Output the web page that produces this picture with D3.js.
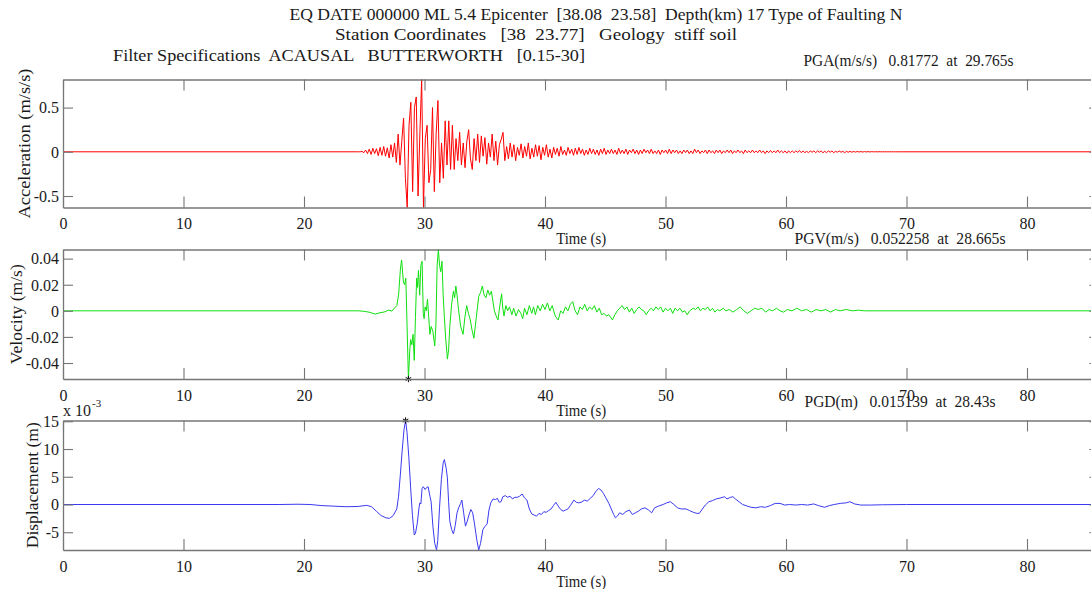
<!DOCTYPE html>
<html>
<head>
<meta charset="utf-8">
<script src="https://d3js.org/d3.v7.min.js"></script>
<style>
  html, body { margin: 0; padding: 0; background: #fff; }
  svg { display: block; font-family: "Liberation Serif", "Times New Roman", serif; }
  text { white-space: pre; fill: #1a1a1a; }
</style>
</head>
<body>
<svg id="chart" width="1091" height="589"></svg>
<script>
// ---- record header ----
const titleLines = [
  "EQ DATE 000000 ML 5.4 Epicenter  [38.08  23.58]  Depth(km) 17 Type of Faulting N",
  "Station Coordinates   [38  23.77]   Geology  stiff soil",
  "Filter Specifications  ACAUSAL   BUTTERWORTH   [0.15-30]"
];
const peakLabels = [
  "PGA(m/s/s)   0.81772  at  29.765s",
  "PGV(m/s)   0.052258  at  28.665s",
  "PGD(m)   0.015139  at  28.43s"
];
const yLabels = ["Acceleration (m/s/s)", "Velocity (m/s)", "Displacement (m)"];
const xLabel = "Time (s)";
const xTicks = [0, 10, 20, 30, 40, 50, 60, 70, 80];
const accTicks = [-0.5, 0, 0.5];
const velTicks = [-0.04, -0.02, 0, 0.02, 0.04];
const dispTicks = [-0.005, 0, 0.005, 0.01, 0.015];
const recordEnd = 86;

// ---- acceleration (m/s/s): samples every accStep s from accStart ----
const accStart = 24.515;
const accStep = 0.15;
const accValues = [
  0, 0, 0.005, -0.01, 0.02, -0.02, 0.03, -0.03, 0.04, -0.02, 0.035, -0.045, 0.05, -0.04, 0.06, -0.05, 0.045, -0.07, 0.08, -0.06,
  0.10, -0.12, 0.20, -0.15, 0.12, 0.38, -0.30, -0.63, 0.30, 0.56, -0.45, 0.50, 0.62, -0.50, 0.20, 0.81772, -0.63, 0.15, 0.30, -0.35,
  -0.20, 0.50, -0.45, 0.20, 0.58, -0.35, 0.10, -0.30, 0.35, -0.15, 0.35, -0.20, 0.30, -0.20, 0.15, -0.10, 0.22, -0.15, 0.10, -0.18,
  0.12, 0.25, -0.08, -0.20, 0.15, -0.10, 0.20, -0.12, 0.18, -0.05, 0.16, -0.14, 0.10, -0.06, 0.20, -0.10, 0.12, -0.15, 0.08, 0.14,
  0.22, -0.10, 0.06, -0.08, 0.10, -0.06, 0.08, -0.10, 0.05, -0.04, 0.09, -0.07, 0.06, -0.05, 0.10, -0.08, 0.04, -0.06, 0.08, -0.05,
  0.07, -0.09, 0.05, -0.04, 0.08, -0.06, 0.03, -0.07, 0.05, -0.03, 0.04, -0.05, 0.06, -0.03, 0.02, -0.04, 0.05, -0.02, 0.03, -0.04,
  0.04, -0.03, 0.05, -0.02, 0.03, -0.04, 0.02, -0.03, 0.04, -0.02, 0.03, -0.03, 0.02, -0.04, 0.03, -0.02, 0.04, -0.03, 0.02, -0.02,
  0.03, -0.02, 0.02, -0.03, 0.04, -0.02, 0.02, -0.02, 0.03, -0.03, 0.02, -0.01, 0.03, -0.02, 0.02, -0.03, 0.02, -0.02, 0.03, -0.01,
  0.02, -0.02, 0.03, -0.02, 0.01, -0.02, 0.02, -0.03, 0.02, -0.01, 0.02, -0.02, 0.03, -0.02, 0.02, -0.01, 0.02, -0.02, 0.01, -0.02,
  0.02, -0.01, 0.02, -0.02, 0.01, -0.02, 0.03, -0.01, 0.02, -0.02, 0.01, -0.01, 0.02, -0.02, 0.02, -0.01, 0.01, -0.02, 0.02, -0.01,
  0.02, -0.02, 0.01, -0.01, 0.02, -0.01, 0.02, -0.02, 0.01, -0.01, 0.02, -0.01, 0.01, -0.02, 0.02, -0.01, 0.01, -0.01, 0.02, -0.01,
  0.01, -0.01, 0.02, -0.01, 0.01, -0.02, 0.01, -0.01, 0.015, -0.01, 0.01, -0.01, 0.02, -0.01, 0.01, -0.01, 0.01, -0.015, 0.01, -0.01,
  0.01, -0.01, 0.01, -0.005, 0.015, -0.01, 0.01, -0.01, 0.005, -0.01, 0.01, -0.005, 0.01, -0.01, 0.01, -0.005, 0.01, -0.01, 0.005, -0.01,
  0.01, -0.005, 0.01, -0.01, 0.005, -0.005, 0.01, -0.005, 0.005, -0.01, 0.005, -0.005, 0.005, -0.005, 0.004, -0.004, 0.004, -0.003, 0.003, -0.003,
  0.003, -0.002, 0.002, -0.002, 0.002, -0.001, 0.001, -0.001, 0.001, 0, 0, 0, 0, 0, 0, 0, 0, 0, 0, 0
];

// ---- velocity (m/s) ----
const velTime = [
  0, 24.5, 24.9, 25.4, 25.9, 26.3, 26.7, 27.0, 27.3, 27.5, 27.7, 27.85, 28.0, 28.1, 28.25, 28.35, 28.45, 28.55, 28.665, 28.78,
  28.85, 28.95, 29.05, 29.15, 29.25, 29.35, 29.42, 29.5, 29.6, 29.7, 29.8, 29.9, 29.97, 30.05, 30.15, 30.25, 30.35, 30.45, 30.55, 30.7,
  30.85, 30.95, 31.05, 31.15, 31.25, 31.35, 31.45, 31.55, 31.65, 31.75, 31.9, 32.0, 32.1, 32.25, 32.4, 32.5, 32.6, 32.7, 32.8, 33.0,
  33.2, 33.35, 33.5, 33.65, 33.8, 33.95, 34.1, 34.3, 34.5, 34.65, 34.8, 34.95, 35.1, 35.25, 35.4, 35.55, 35.7, 35.8, 35.95, 36.1,
  36.25, 36.4, 36.5, 36.6, 36.75, 36.9, 37.05, 37.25, 37.4, 37.6, 37.8, 38.0, 38.15, 38.3, 38.5, 38.7, 38.9, 39.05, 39.2, 39.4,
  39.6, 39.8, 40.0, 40.2, 40.4, 40.6, 40.85, 41.1, 41.3, 41.5, 41.7, 41.9, 42.1, 42.3, 42.5, 42.7, 42.9, 43.1, 43.3, 43.5,
  43.7, 43.9, 44.1, 44.3, 44.5, 44.7, 44.9, 45.1, 45.3, 45.6, 45.8, 46.0, 46.2, 46.4, 46.6, 46.8, 47.0, 47.2, 47.4, 47.6,
  47.8, 48.0, 48.2, 48.4, 48.6, 48.8, 49.0, 49.2, 49.4, 49.6, 49.8, 50.0, 50.2, 50.4, 50.6, 50.8, 51.0, 51.2, 51.4, 51.6,
  51.8, 52.0, 52.3, 52.5, 52.7, 52.9, 53.1, 53.3, 53.5, 53.7, 53.9, 54.1, 54.3, 54.5, 54.8, 55.0, 55.3, 55.6, 55.9, 56.2,
  56.5, 56.8, 57.1, 57.4, 57.7, 58.0, 58.3, 58.6, 58.9, 59.2, 59.5, 59.8, 60.1, 60.5, 60.9, 61.3, 61.7, 62.1, 62.5, 62.9,
  63.3, 63.7, 64.1, 64.5, 65.0, 65.5, 66.0, 66.5, 86
];
const velValues = [
  0, 0, -0.0003, -0.001, -0.0025, -0.0015, -0.0008, 0.0005, -0.0002, 0.002, 0.004, 0.012, 0.032, 0.039, 0.022, 0.02, 0.025, -0.01, -0.052258, -0.03,
  -0.022, -0.026, -0.018, -0.038, -0.005, 0.025, 0.018, 0.031, 0.012, 0.035, 0.038, -0.002, -0.006, 0.003, 0.0, 0.009, -0.005, -0.018, -0.012, -0.016,
  -0.027, -0.01, 0.035, 0.047, 0.035, 0.03, 0.038, 0.012, -0.005, -0.02, -0.037, -0.03, -0.012, 0.005, 0.015, 0.01, 0.019, 0.012, 0.003, -0.012,
  -0.018, -0.005, 0.004, -0.002, -0.007, -0.015, -0.021, -0.005, 0.011, 0.014, 0.019, 0.012, 0.01, 0.016, 0.012, 0.015, 0.006, 0.0, -0.004, -0.007,
  0.004, 0.013, 0.002, -0.004, 0.004, 0.0, 0.003, -0.003, 0.002, -0.004, 0.001, -0.002, -0.006, 0.002, -0.003, 0.004, -0.002, 0.003, -0.003, 0.004,
  0.0, 0.005, 0.001, 0.006, 0.0, 0.004, -0.004, -0.007, 0.0, -0.002, 0.003, 0.0, 0.005, 0.007, 0.0, -0.003, 0.003, 0.001, 0.005, 0.0,
  0.003, 0.001, 0.004, -0.001, 0.002, -0.003, -0.002, -0.004, -0.003, -0.007, -0.003, 0.0, 0.002, 0.004, 0.001, 0.003, -0.001, 0.002, -0.002, 0.001,
  0.003, 0.001, 0.0, -0.003, 0.0, 0.002, 0.0, 0.003, 0.001, 0.003, -0.001, 0.002, 0.0, 0.002, -0.002, 0.002, 0.0, 0.002, -0.001, 0.0,
  -0.003, 0.0, 0.002, 0.001, 0.003, 0.0, 0.002, 0.001, 0.003, 0.0, 0.002, -0.001, 0.001, 0.0, 0.002, 0.0, 0.001, -0.001, 0.001, 0.003,
  0.0, -0.002, 0.0, 0.002, 0.001, 0.002, -0.001, 0.001, 0.0, 0.002, 0.0, -0.001, 0.001, 0.0, 0.002, 0.0, 0.001, -0.001, 0.001, 0.0,
  0.001, -0.001, 0.001, 0.0, 0.001, 0.0, 0.0005, 0.0, 0
];

// ---- displacement (m) ----
const dispTime = [
  0, 18, 19.5, 20.5, 21.5, 22.5, 23.5, 24.5, 25.2, 25.6, 26.0, 26.4, 26.8, 27.1, 27.4, 27.7, 27.85, 28.0, 28.15, 28.3,
  28.43, 28.55, 28.7, 28.85, 29.0, 29.15, 29.25, 29.4, 29.55, 29.62, 29.7, 29.8, 29.9, 30.05, 30.15, 30.3, 30.45, 30.55, 30.7, 30.85,
  31.0, 31.1, 31.25, 31.4, 31.55, 31.65, 31.8, 31.9, 32.0, 32.1, 32.25, 32.4, 32.55, 32.7, 32.85, 33.0, 33.1, 33.25, 33.4, 33.55,
  33.7, 33.85, 34.0, 34.15, 34.35, 34.5, 34.65, 34.85, 35.0, 35.2, 35.35, 35.5, 35.7, 35.9, 36.05, 36.2, 36.35, 36.5, 36.7, 36.9,
  37.1, 37.3, 37.5, 37.7, 37.9, 38.1, 38.3, 38.5, 38.7, 38.9, 39.1, 39.3, 39.5, 39.7, 39.9, 40.1, 40.3, 40.5, 40.7, 40.9,
  41.1, 41.3, 41.5, 41.7, 41.9, 42.1, 42.4, 42.6, 42.8, 43.0, 43.3, 43.5, 43.8, 44.0, 44.2, 44.45, 44.65, 44.85, 45.05, 45.3,
  45.5, 45.7, 45.85, 46.0, 46.2, 46.45, 46.7, 47.0, 47.25, 47.5, 47.75, 48.0, 48.3, 48.6, 48.85, 49.1, 49.4, 49.8, 50.1, 50.4,
  50.7, 51.0, 51.3, 51.7, 52.0, 52.3, 52.6, 52.8, 53.0, 53.3, 53.6, 53.9, 54.2, 54.6, 54.9, 55.1, 55.4, 55.6, 55.8, 56.1,
  56.4, 56.8, 57.1, 57.5, 57.9, 58.3, 58.7, 59.1, 59.5, 59.9, 60.3, 60.8, 61.3, 61.8, 62.3, 62.7, 63.2, 63.6, 64.0, 64.5,
  65.0, 65.3, 65.7, 66.2, 67.0, 68.0, 70, 86
];
const dispValues = [
  0, 0, 0.00005, 0, -0.0002, -0.0003, -0.0004, -0.00035, -0.00015, -0.0004, -0.0012, -0.002, -0.0024, -0.0025, -0.002, -0.0008, 0.0015, 0.0055, 0.0098, 0.0135,
  0.015139, 0.013, 0.0085, 0.003, -0.002, -0.0055, -0.0052, -0.0034, -0.0005, 0.0003, 0.0001, 0.0029, 0.0032, 0.0027, 0.003, 0.0032, 0.0015, 0.0005, -0.004, -0.007,
  -0.0082, -0.0065, -0.0005, 0.0045, 0.0075, 0.0081, 0.0065, 0.0048, 0.0005, -0.003, -0.0045, -0.0053, -0.0038, -0.0015, -0.0005, 0.0002, 0.0008, -0.0015, -0.0039, -0.003,
  -0.0018, -0.0009, -0.0015, -0.0035, -0.0065, -0.0082, -0.007, -0.0045, -0.004, -0.0035, -0.001, 0.0003, 0.001, 0.0009, 0.0011, 0.0004, 0.0005, 0.0014, 0.0016, 0.0013,
  0.0015, 0.001, 0.0013, 0.0013, 0.0015, 0.0019, 0.0012, 0.0008, -0.0008, -0.0017, -0.0019, -0.0021, -0.0016, -0.0018, -0.0013, -0.0014, -0.0011, -0.0008, -0.0002, 0.0004,
  -0.0003, -0.0009, -0.0012, -0.001, -0.0008, -0.0002, 0.0008, 0.0004, 0.0003, 0.0004, 0.0008, 0.0006, 0.0012, 0.0016, 0.0023, 0.0029, 0.0026, 0.002, 0.0012, 0.0002,
  -0.0008, -0.0018, -0.0024, -0.0021, -0.0015, -0.0018, -0.0013, -0.001, -0.0018, -0.0015, -0.0012, -0.0008, -0.0006, -0.001, -0.0015, -0.0006, -0.0003, 0.0, 0.0003, 0.0005,
  0.0, -0.0006, -0.0008, -0.0008, -0.0011, -0.0014, -0.0016, -0.0016, -0.001, -0.0001, 0.0005, 0.0007, 0.001, 0.0012, 0.0014, 0.001, 0.0013, 0.0014, 0.001, 0.0005,
  0.0, -0.0003, -0.0005, -0.0006, -0.0004, -0.0005, -0.0002, 0.0002, 0.0002, -0.0001, 0.0, -0.0001, 0.0, -0.0001, 0.0001, -0.0002, -0.0005, -0.0002, 0.0, 0.0002,
  0.0003, 0.0005, 0.0001, -0.0001, -0.0001, -0.00005, 0, 0
];

// ---- assemble series ----
const accPoints = [[0, 0]]
  .concat(accValues.map((v, i) => [accStart + i * accStep, v]))
  .concat([[recordEnd, 0]]);
const velPoints = velTime.map((t, i) => [t, velValues[i]]);
const dispPoints = dispTime.map((t, i) => [t, dispValues[i]]);

const svg = d3.select("#chart");
svg.append("rect").attr("width", 1091).attr("height", 589).attr("fill", "#fff");

const x = d3.scaleLinear().domain([0, recordEnd]).range([63, 63 + recordEnd * 12.05]);
const axisColor = "#767676";
const fmt = d => String(+d.toFixed(6));

const panels = [
  { points: accPoints, color: "#ff0000", top: 79.5, bottom: 207.5, ticks: accTicks, tickFmt: fmt,
    label: yLabels[0], labelX: 29.5, labelLen: 150 },
  { points: velPoints, color: "#10e010", top: 249.5, bottom: 379, ticks: velTicks, tickFmt: fmt,
    label: yLabels[1], labelX: 22, labelLen: 100,
    peak: [28.665, -0.052258] },
  { points: dispPoints, color: "#3a3af0", top: 420.5, bottom: 550, ticks: dispTicks, tickFmt: d => fmt(d * 1000),
    label: yLabels[2], labelX: 37.5, labelLen: 126,
    peak: [28.43, 0.015139] }
];

panels.forEach(p => {
  const y = d3.scaleLinear().domain(d3.extent(p.points, d => d[1])).range([p.bottom, p.top]);
  const g = svg.append("g");

  g.append("path")
    .datum(p.points)
    .attr("fill", "none")
    .attr("stroke", p.color)
    .attr("stroke-width", 1)
    .attr("stroke-linejoin", "round")
    .attr("d", d3.line().x(d => x(d[0])).y(d => y(d[1])));

  if (p.peak) {
    g.append("path")
      .attr("transform", `translate(${x(p.peak[0])},${y(p.peak[1])})`)
      .attr("d", d3.symbol().type(d3.symbolAsterisk).size(28)())
      .attr("fill", "none").attr("stroke", "#000").attr("stroke-width", 1);
  }

  const styleAxis = sel => {
    sel.select(".domain").attr("stroke", axisColor).attr("stroke-width", 1.3);
    sel.selectAll(".tick line").attr("stroke", axisColor).attr("stroke-width", 1.1);
    sel.selectAll("text").attr("fill", "#1a1a1a").style("font-size", "16px")
      .style("font-family", "'Liberation Serif', serif");
  };

  // bottom axis with labels
  g.append("g").attr("transform", `translate(0,${p.bottom})`)
    .call(d3.axisBottom(x).tickValues(xTicks).tickSizeInner(-11).tickSizeOuter(0).tickFormat(d3.format("d")))
    .call(styleAxis)
    .call(a => a.selectAll("text").attr("y", 21.5).attr("dy", null));
  // top axis, ticks only
  g.append("g").attr("transform", `translate(0,${p.top})`)
    .call(d3.axisTop(x).tickValues(xTicks).tickSizeInner(-11).tickSizeOuter(0).tickFormat(""))
    .call(styleAxis);
  // left axis with labels
  g.append("g").attr("transform", `translate(${x(0)},0)`)
    .call(d3.axisLeft(y).tickValues(p.ticks).tickSizeInner(-10).tickSizeOuter(0).tickPadding(4).tickFormat(p.tickFmt))
    .call(styleAxis)
    .call(a => a.selectAll("text").attr("dy", "0.33em"));
  // right axis, ticks only
  g.append("g").attr("transform", `translate(${x(recordEnd)},0)`)
    .call(d3.axisRight(y).tickValues(p.ticks).tickSizeInner(-10).tickSizeOuter(0).tickFormat(""))
    .call(styleAxis);

  // axis titles
  g.append("text")
    .attr("transform", `translate(${p.labelX},${(p.top + p.bottom) / 2}) rotate(-90)`)
    .attr("text-anchor", "middle")
    .attr("textLength", p.labelLen).attr("lengthAdjust", "spacingAndGlyphs")
    .style("font-size", "16.5px")
    .text(p.label);
  g.append("text")
    .attr("x", (x(0) + x(recordEnd)) / 2)
    .attr("y", p.bottom + 36.5)
    .attr("text-anchor", "middle")
    .attr("textLength", 50).attr("lengthAdjust", "spacingAndGlyphs")
    .style("font-size", "16.5px")
    .text(xLabel);
});

// exponent marker for the displacement axis
const expo = svg.append("text").attr("x", 63).attr("y", 416).style("font-size", "16px");
expo.append("tspan").text("x 10");
expo.append("tspan").attr("dx", 1).attr("dy", -9).style("font-size", "11px").text("-3");

// header and peak annotations
const headerText = [
  { t: titleLines[0], x: 289.5, y: 19.5, len: 613 },
  { t: titleLines[1], x: 335, y: 40, len: 402 },
  { t: titleLines[2], x: 113, y: 60.5, len: 472 },
  { t: peakLabels[0], x: 803.5, y: 65.5, len: 210 },
  { t: peakLabels[1], x: 794.5, y: 243.5, len: 211 },
  { t: peakLabels[2], x: 804.5, y: 406.5, len: 191 }
];
svg.selectAll("text.header")
  .data(headerText)
  .join("text")
  .attr("class", "header")
  .attr("x", d => d.x).attr("y", d => d.y)
  .attr("textLength", d => d.len).attr("lengthAdjust", "spacingAndGlyphs")
  .style("font-size", "16.5px")
  .text(d => d.t);
</script>
</body>
</html>
